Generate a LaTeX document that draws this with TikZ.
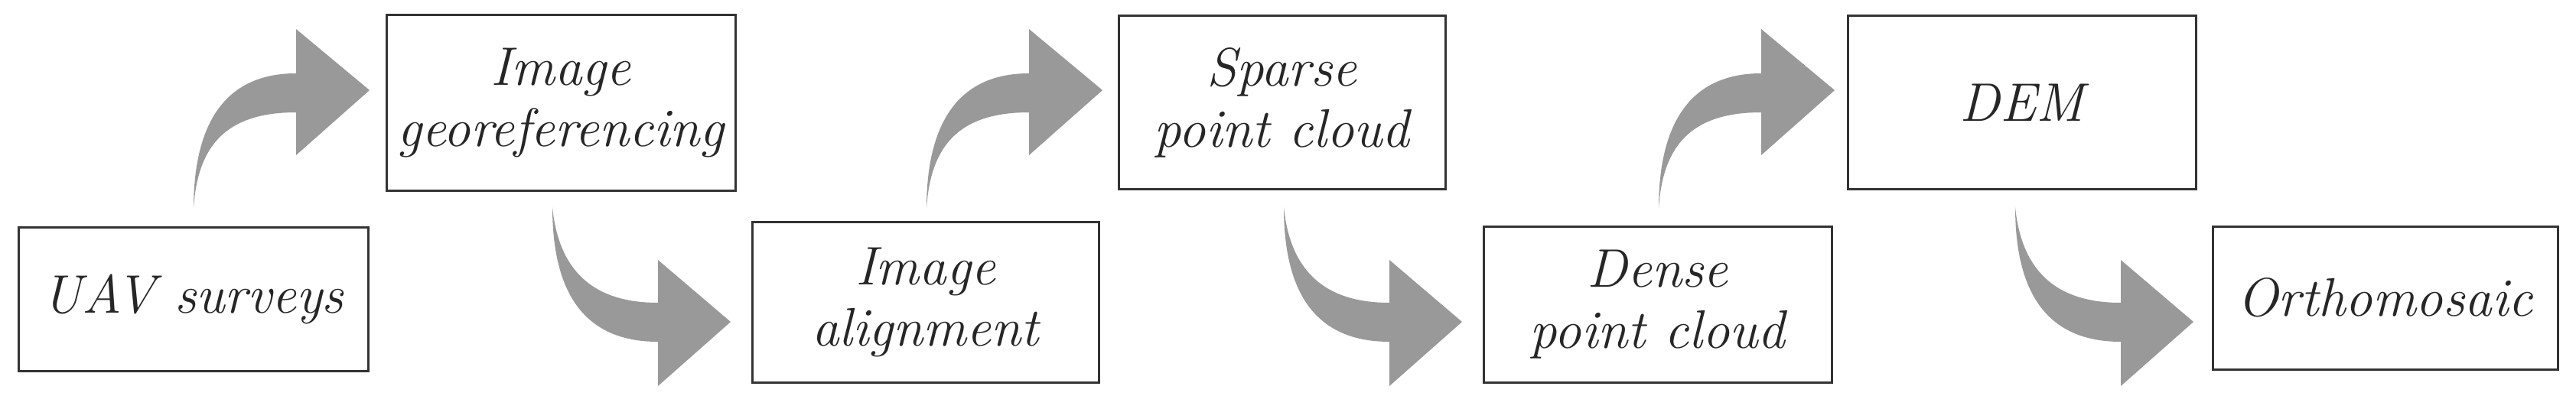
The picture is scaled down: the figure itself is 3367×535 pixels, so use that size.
\documentclass[tikz,border=0pt]{standalone}
\begin{document}
\begin{tikzpicture}[x=1pt,y=-1pt,
  box/.style={draw=black!80,line width=3pt,fill=white},
  lbl/.style={font=\fontsize{71}{80}\selectfont\itshape,align=center,text=black!85},
  arr/.style={fill=black!40,draw=none}]
\useasboundingbox (0,0) rectangle (3367,535);
\newcommand{\uparr}[1]{\fill[arr,shift={(#1)}] (0,0) .. controls (0,-110) and (40,-177) .. (134,-177) -- (134,-235) -- (230,-155) -- (134,-70) -- (134,-126) .. controls (40,-126) and (5,-80) .. (0,0) -- cycle;}
\newcommand{\dnarr}[1]{\fill[arr,shift={(#1)}] (0,0) .. controls (0,110) and (40,176) .. (138,176) -- (138,234) -- (233,150) -- (138,69) -- (138,125) .. controls (50,125) and (8,80) .. (0,0) -- cycle;}
\draw[box] (24,297) rectangle node[lbl] (a) {UAV surveys} (481,485);
\draw[box] (505,20) rectangle node[lbl] (b) {Image\\georeferencing} (961,249);
\draw[box] (983,290) rectangle node[lbl] (c) {Image\\alignment} (1436,500);
\draw[box] (1462,21) rectangle node[lbl] (d) {Sparse\\point cloud} (1889,247);
\draw[box] (1939,296) rectangle node[lbl] (e) {Dense\\point cloud} (2394,500);
\draw[box] (2415,21) rectangle node[lbl] (f) {DEM} (2870,247);
\draw[box] (2892,296) rectangle node[lbl] (g) {Orthomosaic} (3343,483);
\uparr{253,273}
\uparr{1211,273}
\uparr{2168,273}
\dnarr{722,271}
\dnarr{1678,271}
\dnarr{2634,271}
\end{tikzpicture}
\end{document}
